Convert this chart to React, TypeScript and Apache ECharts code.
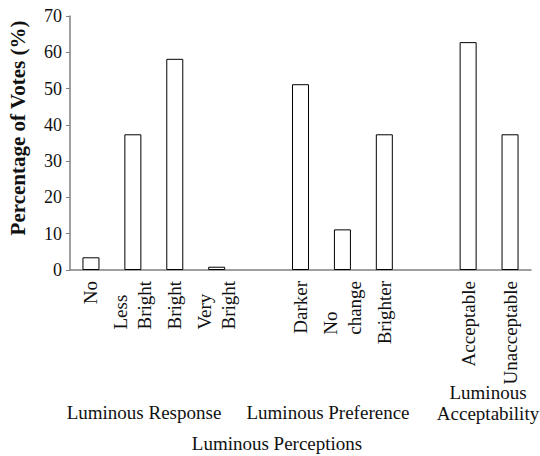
import React, { useEffect, useRef } from "react";
import * as echarts from "echarts";

const categories = ["No", "Less\nBright", "Bright", "Very\nBright", "", "Darker", "No\nchange", "Brighter", "", "Acceptable", "Unacceptable"];
const values: (number | string)[] = [3.5, 37.4, 58.2, 0.9, "-", 51.2, 11.2, 37.4, "-", 62.8, 37.4];
const yTicks = { min: 0, max: 70, interval: 10 };
const yAxisName = "Percentage of Votes (%)";
const groupNames = ["Luminous Response", "Luminous Preference", "Luminous\nAcceptability"];
const overallName = "Luminous Perceptions";

const FONT = "Liberation Serif, Times New Roman, serif";

export default function App() {
  const ref = useRef<HTMLDivElement>(null);
  useEffect(() => {
    const chart = echarts.init(ref.current!, null, { renderer: "svg" });
    chart.setOption({
      animation: false,
      backgroundColor: "#fff",
      grid: { left: 70, right: 9, top: 16, bottom: 186, containLabel: false },
      xAxis: {
        type: "category",
        data: categories,
        boundaryGap: true,
        axisLine: { lineStyle: { color: "#808080", width: 1.5 } },
        axisTick: { show: false },
        axisLabel: {
          interval: 0,
          rotate: 90,
          margin: 11,
          color: "#111",
          fontFamily: FONT,
          fontSize: 19,
          formatter: (v: string) => v.split("\n").map((s) => `{a|${s}}`).join("\n"),
          rich: { a: { align: "left", fontFamily: FONT, fontSize: 19, lineHeight: 24, color: "#111" } },
        },
      },
      yAxis: {
        type: "value",
        min: yTicks.min,
        max: yTicks.max,
        interval: yTicks.interval,
        axisLine: { show: true, lineStyle: { color: "#808080", width: 1.5 } },
        axisTick: { show: true, length: 4, lineStyle: { color: "#808080" } },
        splitLine: { show: false },
        axisLabel: { color: "#111", fontFamily: FONT, fontSize: 18, margin: 8 },
      },
      series: [
        {
          type: "bar",
          data: values,
          barWidth: 17,
          itemStyle: { color: "#fff", borderColor: "#000", borderWidth: 1 },
        },
      ],
      graphic: [
        {
          type: "text",
          x: 18,
          y: 128,
          rotation: Math.PI / 2,
          style: { text: yAxisName, fontFamily: FONT, fontSize: 21, fontWeight: "bold", fill: "#111", align: "center", verticalAlign: "middle" },
        },
        {
          type: "text",
          x: 144,
          y: 412,
          style: { text: groupNames[0], fontFamily: FONT, fontSize: 19, fill: "#111", align: "center", verticalAlign: "middle" },
        },
        {
          type: "text",
          x: 328,
          y: 412,
          style: { text: groupNames[1], fontFamily: FONT, fontSize: 19, fill: "#111", align: "center", verticalAlign: "middle" },
        },
        {
          type: "text",
          x: 488,
          y: 403,
          style: { text: groupNames[2], fontFamily: FONT, fontSize: 19, lineHeight: 21, fill: "#111", align: "center", verticalAlign: "middle" },
        },
        {
          type: "text",
          x: 277,
          y: 443,
          style: { text: overallName, fontFamily: FONT, fontSize: 19, fill: "#111", align: "center", verticalAlign: "middle" },
        },
      ],
    });
    return () => chart.dispose();
  }, []);
  return <div ref={ref} style={{ width: 540, height: 456, position: "absolute", left: 0, top: 0 }} />;
}
